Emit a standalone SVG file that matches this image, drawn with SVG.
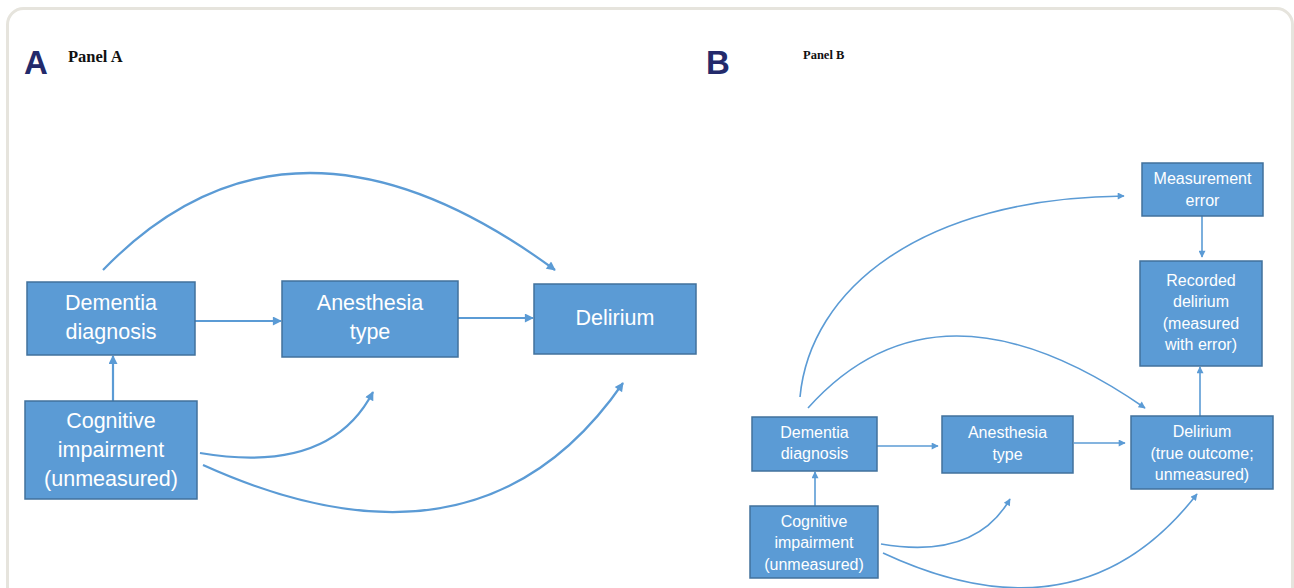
<svg xmlns="http://www.w3.org/2000/svg" width="1294" height="588" viewBox="0 0 1294 588">
<style>
.box{fill:#5b9bd5;stroke:#41719c;stroke-width:1.5}
.ta{font-family:"Liberation Sans",Arial,sans-serif;font-size:21.5px;fill:#ffffff;text-anchor:middle}
.tb{font-family:"Liberation Sans",Arial,sans-serif;font-size:16px;fill:#ffffff;text-anchor:middle}
.ca{fill:none;stroke:#5b9bd5;stroke-width:2.2;marker-end:url(#ahA)}
.cb{fill:none;stroke:#5b9bd5;stroke-width:1.6;marker-end:url(#ahB)}
.letter{font-family:"Liberation Sans",Arial,sans-serif;font-weight:bold;fill:#232a6b}
.ptitle{font-family:"Liberation Serif","Times New Roman",serif;font-weight:bold;fill:#111}
</style>
<defs>
<marker id="ahA" viewBox="0 0 10 10" refX="9" refY="5" markerWidth="11" markerHeight="9" orient="auto" markerUnits="userSpaceOnUse"><path d="M0,0 L10,5 L0,10 z" fill="#5b9bd5"/></marker>
<marker id="ahB" viewBox="0 0 10 10" refX="9" refY="5" markerWidth="9" markerHeight="7" orient="auto" markerUnits="userSpaceOnUse"><path d="M0,0 L10,5 L0,10 z" fill="#5b9bd5"/></marker>
</defs>
<rect x="0" y="0" width="1294" height="588" fill="#ffffff"/>
<rect x="7.5" y="8.5" width="1285" height="620" rx="16" fill="none" stroke="#e6e4dd" stroke-width="3"/>

<g id="titles">
<text class="letter" x="24" y="74" font-size="33">A</text>
<text class="ptitle" x="68" y="62" font-size="16.5">Panel A</text>
<text class="letter" x="706" y="74" font-size="33">B</text>
<text class="ptitle" x="803" y="59" font-size="12.5">Panel B</text>
</g>

<g id="connectors">
<!-- Panel A -->
<path class="ca" d="M195,321 L281,321"/>
<path class="ca" d="M458,318 L533,318"/>
<path class="ca" d="M113,401 L113,356"/>
<path class="ca" d="M103,270 Q291,76 555,270"/>
<path class="ca" d="M200,453 Q330,475 373,392"/>
<path class="ca" d="M203,465 Q480,590 623,383"/>
<!-- Panel B -->
<path class="cb" d="M877,446 L938,446"/>
<path class="cb" d="M1074,443 L1125,443"/>
<path class="cb" d="M815,506 L815,472"/>
<path class="cb" d="M1202,216 L1202,257"/>
<path class="cb" d="M1200,416 L1200,367"/>
<path class="cb" d="M800,397 C810,290 920,198 1124,196"/>
<path class="cb" d="M808,408 Q937,264 1145,408"/>
<path class="cb" d="M881,544 Q975,560 1010,499"/>
<path class="cb" d="M883,553 Q1080,645 1197,494"/>
</g>

<g id="a-dementia">
<rect class="box" x="27" y="282" width="168" height="73"/>
<text class="ta" x="111" y="310">Dementia</text>
<text class="ta" x="111" y="339">diagnosis</text>
</g>
<g id="a-anesthesia">
<rect class="box" x="282" y="281" width="176" height="76"/>
<text class="ta" x="370" y="310">Anesthesia</text>
<text class="ta" x="370" y="339">type</text>
</g>
<g id="a-delirium">
<rect class="box" x="534" y="284" width="162" height="70"/>
<text class="ta" x="615" y="325">Delirium</text>
</g>
<g id="a-cognitive">
<rect class="box" x="25" y="401" width="172" height="98"/>
<text class="ta" x="111" y="428">Cognitive</text>
<text class="ta" x="111" y="457">impairment</text>
<text class="ta" x="111" y="486">(unmeasured)</text>
</g>

<g id="b-measurement">
<rect class="box" x="1142" y="163" width="121" height="53"/>
<text class="tb" x="1202.5" y="184">Measurement</text>
<text class="tb" x="1202.5" y="206">error</text>
</g>
<g id="b-recorded">
<rect class="box" x="1140" y="261" width="122" height="105"/>
<text class="tb" x="1201" y="286">Recorded</text>
<text class="tb" x="1201" y="307">delirium</text>
<text class="tb" x="1201" y="329">(measured</text>
<text class="tb" x="1201" y="350">with error)</text>
</g>
<g id="b-dementia">
<rect class="box" x="752" y="417" width="125" height="54"/>
<text class="tb" x="814.5" y="438">Dementia</text>
<text class="tb" x="814.5" y="459">diagnosis</text>
</g>
<g id="b-anesthesia">
<rect class="box" x="942" y="416" width="131" height="57"/>
<text class="tb" x="1007.5" y="438">Anesthesia</text>
<text class="tb" x="1007.5" y="460">type</text>
</g>
<g id="b-delirium">
<rect class="box" x="1131" y="416" width="142" height="73"/>
<text class="tb" x="1202" y="437">Delirium</text>
<text class="tb" x="1202" y="459">(true outcome;</text>
<text class="tb" x="1202" y="480">unmeasured)</text>
</g>
<g id="b-cognitive">
<rect class="box" x="750" y="506" width="128" height="72"/>
<text class="tb" x="814" y="527">Cognitive</text>
<text class="tb" x="814" y="548">impairment</text>
<text class="tb" x="814" y="570">(unmeasured)</text>
</g>
</svg>
